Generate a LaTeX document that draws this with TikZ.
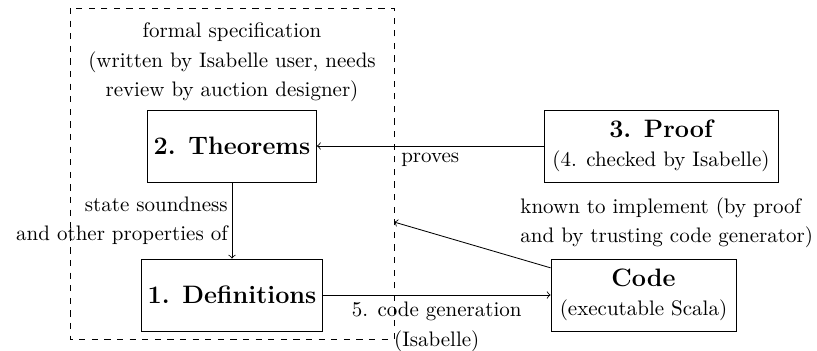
\documentclass[tikz,border=0pt]{standalone}
\begin{document}
\begin{tikzpicture}[x=0.47619pt,y=-0.47619pt,
  every node/.style={font=\fontsize{10}{14}\selectfont},
  box/.style={draw,rectangle,align=center,minimum height=34.3pt,inner sep=2pt},
  big/.style={font=\fontsize{12}{14}\selectfont\bfseries},
  lbl/.style={align=center}]
\useasboundingbox (0,0) rectangle (817,351);
\draw[dashed] (70,8) rectangle (394,339);
\coordinate (impl) at (394,222);
\node[box,big,minimum width=80.5pt] (thm) at (232,146) {2. Theorems};
\node[box,big,minimum width=86.2pt] (def) at (232,295) {1. Definitions};
\node[box,minimum width=111.4pt] (proof) at (661,146) {{\fontsize{12}{14}\selectfont\bfseries 3. Proof}\\(4. checked by Isabelle)};
\node[box,minimum width=88.1pt] (code) at (643.5,295) {{\fontsize{12}{14}\selectfont\bfseries Code}\\(executable Scala)};
\node[lbl] (spec) at (232,62.5) {formal specification\\(written by Isabelle user, needs\\review by auction designer)};
\node[align=left,anchor=west,inner sep=0pt] (known) at (520,223) {known to implement (by proof\\and by trusting code generator)};
\draw[->] (proof) -- node[below] {proves} (thm);
\draw[->] (thm) -- node[left,align=right,xshift=1.5pt] {state soundness\\and other properties of} (def);
\draw[->] (def) -- node[below,align=center] {5. code generation\\(Isabelle)} (code);
\draw[->] (code) -- (impl);
\end{tikzpicture}
\end{document}
